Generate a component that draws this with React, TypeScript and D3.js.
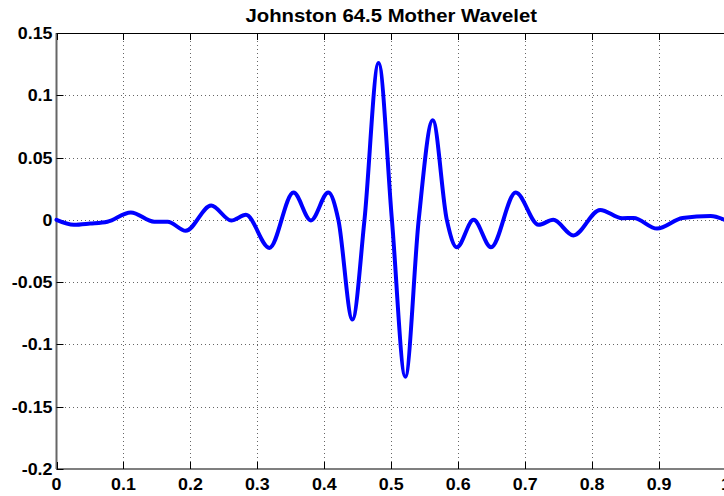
import React, { useEffect, useRef } from 'react';
import * as d3 from 'd3';

// wavelet samples (t, value)
const waveT = [
  0.0, 0.026, 0.05, 0.076, 0.111, 0.146, 0.166, 0.193, 0.231, 0.261, 0.283, 0.318,
  0.354, 0.38, 0.406, 0.421, 0.442, 0.46, 0.481, 0.501, 0.521, 0.541, 0.562, 0.583,
  0.598, 0.623, 0.649, 0.686, 0.72, 0.742, 0.772, 0.812, 0.845, 0.862, 0.897, 0.935,
  0.977, 1.0
];
const waveV = [
  0.0, -0.004, -0.003, -0.0015, 0.006, -0.0015, -0.0015, -0.0088, 0.0115, -0.0005, 0.004, -0.0225,
  0.022, -0.0005, 0.022, 0.0, -0.08, 0.0, 0.126, 0.0, -0.126, 0.0, 0.08, 0.0,
  -0.022, 0.0, -0.022, 0.022, -0.004, 0.0, -0.0125, 0.008, 0.0013, 0.0015, -0.007, 0.0015,
  0.003, -0.0005
];

const xTicks = [0, 0.1, 0.2, 0.3, 0.4, 0.5, 0.6, 0.7, 0.8, 0.9, 1];
const xTickLabels = ['0', '0.1', '0.2', '0.3', '0.4', '0.5', '0.6', '0.7', '0.8', '0.9', '1'];
const yTicks = [0.15, 0.1, 0.05, 0, -0.05, -0.1, -0.15, -0.2];
const yTickLabels = ['0.15', '0.1', '0.05', '0', '-0.05', '-0.1', '-0.15', '-0.2'];

const TITLE = 'Johnston 64.5 Mother Wavelet';

const W = 724, H = 496;
const M = { l: 56.5, r: 726, t: 33, b: 469 };
const FONT = 'Liberation Sans, Arial, Helvetica, sans-serif';

export default function App() {
  const svgRef = useRef<SVGSVGElement | null>(null);

  useEffect(() => {
    const svg = d3.select(svgRef.current);
    svg.selectAll('*').remove();

    const x = d3.scaleLinear().domain([0, 1]).range([M.l, M.r]);
    const y = d3.scaleLinear().domain([-0.2, 0.15]).range([M.b, M.t]);

    svg.append('rect').attr('width', W).attr('height', H).attr('fill', '#fff');

    /* dotted grid */
    const grid = svg.append('g')
      .attr('stroke', '#000')
      .attr('stroke-opacity', 0.6)
      .attr('stroke-width', 1)
      .attr('stroke-dasharray', '1,3')
      .attr('shape-rendering', 'crispEdges');
    grid.selectAll('line.v')
      .data(xTicks.slice(1, -1))
      .join('line')
      .attr('x1', d => Math.round(x(d)) + 0.5).attr('x2', d => Math.round(x(d)) + 0.5)
      .attr('y1', M.t).attr('y2', M.b);
    grid.selectAll('line.h')
      .data(yTicks.slice(1, -1))
      .join('line')
      .attr('class', 'h')
      .attr('y1', d => Math.round(y(d)) + 0.5).attr('y2', d => Math.round(y(d)) + 0.5)
      .attr('x1', M.l).attr('x2', M.r);

    /* box + inward ticks */
    const axis = svg.append('g').attr('stroke', '#000').attr('stroke-width', 1);
    axis.append('line').attr('x1', M.l).attr('x2', M.r).attr('y1', M.t + 0.5).attr('y2', M.t + 0.5);
    axis.append('line').attr('x1', M.l).attr('x2', M.r).attr('y1', M.b).attr('y2', M.b)
      .attr('stroke', '#555').attr('stroke-width', 1.5);
    axis.append('line').attr('x1', M.l).attr('x2', M.l).attr('y1', M.t).attr('y2', M.b)
      .attr('stroke', '#666').attr('stroke-width', 2);

    xTicks.forEach(d => {
      const px = Math.round(x(d)) + 0.5;
      axis.append('line').attr('x1', px).attr('x2', px).attr('y1', M.t).attr('y2', M.t + 7);
      axis.append('line').attr('x1', px).attr('x2', px).attr('y1', M.b).attr('y2', M.b - 7);
    });
    yTicks.forEach(d => {
      const py = Math.round(y(d)) + 0.5;
      axis.append('line').attr('x1', M.l).attr('x2', M.l + 7).attr('y1', py).attr('y2', py);
    });

    /* tick labels (bold, a bit wide like the source) */
    yTicks.forEach((d, i) => {
      svg.append('text')
        .attr('transform', `translate(${M.l - 4},${y(d) + 6}) scale(1.05,1)`)
        .attr('text-anchor', 'end')
        .attr('font-family', FONT)
        .attr('font-weight', 700)
        .attr('font-size', 17)
        .attr('fill', '#000')
        .text(yTickLabels[i]);
    });
    xTicks.forEach((d, i) => {
      svg.append('text')
        .attr('transform', `translate(${x(d)},${M.b + 21}) scale(1.05,1)`)
        .attr('text-anchor', 'middle')
        .attr('font-family', FONT)
        .attr('font-weight', 700)
        .attr('font-size', 17)
        .attr('fill', '#000')
        .text(xTickLabels[i]);
    });

    /* title */
    svg.append('text')
      .attr('transform', `translate(${(M.l + M.r) / 2},${M.t - 11}) scale(1.07,1)`)
      .attr('text-anchor', 'middle')
      .attr('font-family', FONT)
      .attr('font-weight', 700)
      .attr('font-size', 19)
      .attr('fill', '#000')
      .text(TITLE);

    /* wavelet */
    const pts = waveT.map((t, i) => [t, waveV[i]] as [number, number]);
    svg.append('path')
      .datum(pts)
      .attr('fill', 'none')
      .attr('stroke', '#0000ff')
      .attr('stroke-width', 4)
      .attr('stroke-linejoin', 'round')
      .attr('stroke-linecap', 'round')
      .attr('d', d3.line<[number, number]>()
        .x(d => x(d[0]))
        .y(d => y(d[1]))
        .curve(d3.curveMonotoneX));
  }, []);

  return (
    <svg
      ref={svgRef}
      width={W}
      height={H}
      style={{ position: 'absolute', left: 0, top: 0, display: 'block' }}
    />
  );
}
